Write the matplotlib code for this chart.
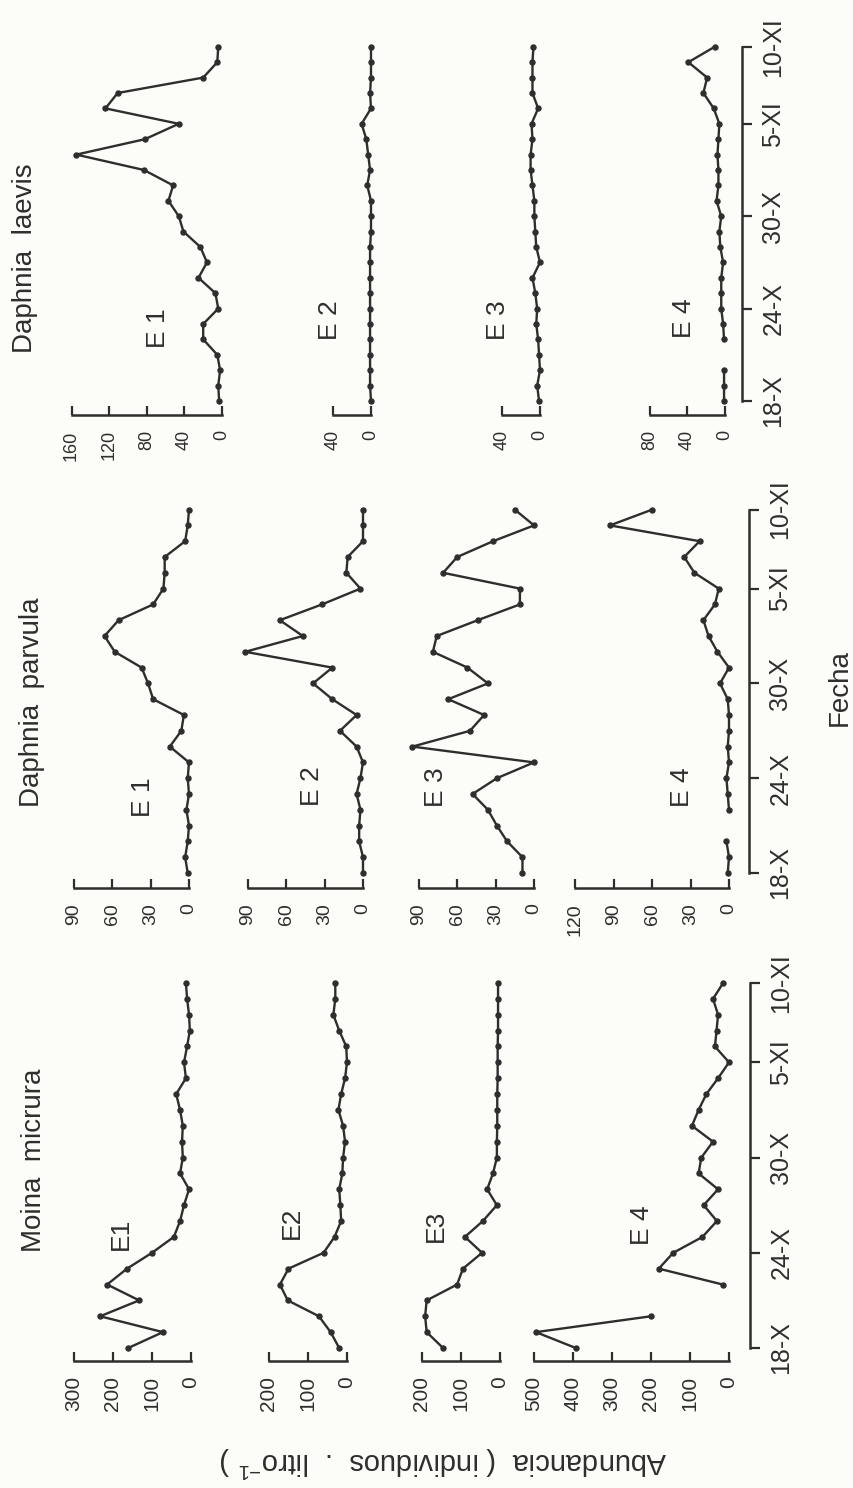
import numpy as np
import matplotlib.pyplot as plt

plt.rcParams['font.family'] = ['Liberation Sans', 'DejaVu Sans']
plt.rcParams['mathtext.fontset'] = 'custom'
plt.rcParams['mathtext.rm'] = 'Liberation Sans'
plt.rcParams['mathtext.default'] = 'regular'

nan = np.nan
W, H = 854, 1488
ink = '#2e2e2e'

# sampling days: 18-X .. 10-XI, one sample per day
days = np.arange(24)
date_ticks = [0, 6, 12, 18, 23]
date_labels = ['18-X', '24-X', '30-X', '5-XI', '10-XI']

species = ['Moina  micrura', 'Daphnia  parvula', 'Daphnia  laevis']

# Moina micrura
moina_e1 = [161, 72, 233, 133, 215, 164, 100, 44, 28, 18, 5, 28, 21, 23, 21, 28, 38, 13, 18, 10, 3, 5, 10, 13]
moina_e2 = [20, 42, 72, 152, 172, 150, 60, 32, 15, 17, 20, 12, 10, 5, 10, 22, 15, 5, 0, 2, 20, 35, 30, 30]
moina_e3 = [146, 188, 192, 188, 110, 95, 46, 90, 44, 8, 33, 18, 8, 8, 7, 7, 7, 6, 6, 6, 5, 5, 5, 5]
moina_e4 = [393, 495, 200, nan, 16, 180, 143, 68, 31, 65, 28, 78, 71, 41, 95, 78, 58, 28, 0, 36, 32, 28, 41, 15]

# Daphnia parvula
parvula_e1 = [1, 3, 1, 0, 2, 0, 1, 0, 15, 6, 4, 28, 32, 37, 58, 66, 55, 28, 20, 19, 19, 3, 1, 0]
parvula_e2 = [0, 0, 3, 3, 2, 5, 2, 0, 5, 18, 5, 24, 39, 24, 92, 47, 65, 32, 2, 13, 12, 0, 0, 0]
parvula_e3 = [9, 9, 21, 29, 36, 48, 29, 0, 95, 50, 39, 67, 36, 52, 79, 76, 44, 11, 11, 71, 60, 32, 0, 15]
parvula_e4 = [1, 0, 2, nan, 0, 1, 2, 0, 1, 0, 0, 1, 7, 0, 9, 16, 20, 11, 8, 27, 35, 23, 93, 60]

# Daphnia laevis
laevis_e1 = [3, 4, 2, 5, 20, 20, 4, 7, 25, 16, 23, 41, 46, 57, 52, 83, 155, 82, 46, 124, 111, 20, 5, 4]
laevis_e2 = [0, 1, 1, 1, 1, 1, 1, 1, 1, 1, 1, 0, 0, 0, 4, 1, 3, 5, 10, 0, 1, 0, 0, 0]
laevis_e3 = [1, 3, 0, 1, 2, 4, 3, 5, 8, 0, 4, 5, 6, 6, 8, 10, 10, 8, 9, 2, 8, 8, 8, 7]
laevis_e4 = [1, 1, 1, nan, 1, 2, 4, 4, 4, 2, 5, 6, 4, 9, 7, 7, 8, 7, 6, 12, 23, 19, 39, 11]

series = [
    [moina_e1, moina_e2, moina_e3, moina_e4],
    [parvula_e1, parvula_e2, parvula_e3, parvula_e4],
    [laevis_e1, laevis_e2, laevis_e3, laevis_e4],
]
value_ticks = [
    [[0, 100, 200, 300], [0, 100, 200], [0, 100, 200], [0, 100, 200, 300, 400, 500]],
    [[0, 30, 60, 90], [0, 30, 60, 90], [0, 30, 60, 90], [0, 30, 60, 90, 120]],
    [[0, 40, 80, 120, 160], [0, 40], [0, 40], [0, 40, 80]],
]

# page layout (pixels): the figure is printed turned a quarter turn
blocks = [
    dict(y0=1348, d=15.87, yline=1361, s=0.39, xdate=750, x0=[191, 347, 500, 729],
         title=(34, 1160), labels=[(121, 1234), (292, 1223), (436, 1226), (642, 1225)],
         names=['E1', 'E2', 'E3', 'E 4'], lsize=15),
    dict(y0=873, d=15.8, yline=888, s=1.28, xdate=749, x0=[189, 363, 534, 729],
         title=(32, 702), labels=[(143, 797), (312, 786), (436, 787), (682, 787)],
         names=['E 1', 'E 2', 'E 3', 'E 4'], lsize=14),
    dict(y0=401, d=15.4, yline=415, s=0.94, xdate=742, x0=[222, 371, 540, 725],
         title=(25, 258), labels=[(158, 328), (330, 320), (498, 320), (684, 318)],
         names=['E 1', 'E 2', 'E 3', 'E 4'], lsize=13),
]

fig = plt.figure(figsize=(W / 100, H / 100), dpi=100)
fig.patch.set_facecolor('#fcfcf8')


def px_axes(left, top, right, bottom):
    return fig.add_axes([left / W, 1 - bottom / H, (right - left) / W, (bottom - top) / H])


for b, blk in enumerate(blocks):
    for k in range(4):
        vals = np.array(series[b][k], dtype=float)
        ticks = value_ticks[b][k]
        x0 = blk['x0'][k]
        s, d = blk['s'], blk['d']
        vtop = max(ticks[-1], np.nanmax(vals)) * 1.06
        vlow = -(blk['xdate'] - x0) / s
        ylow = -(blk['yline'] - blk['y0']) / d
        yhigh = 23.8
        ax = px_axes(x0 - vtop * s, blk['y0'] - yhigh * d, blk['xdate'], blk['yline'])
        ax.patch.set_alpha(0)
        ax.set_xlim(vtop, vlow)
        ax.set_ylim(ylow, yhigh)

        ax.plot(vals, days, color=ink, lw=1.7, marker='o', ms=3.6, clip_on=False)

        for side in ['top', 'left']:
            ax.spines[side].set_visible(False)
        ax.spines['bottom'].set_bounds(0, ticks[-1])
        ax.spines['bottom'].set_linewidth(1.8)
        ax.spines['bottom'].set_color(ink)
        ax.set_xticks(ticks, [str(t) for t in ticks])
        ax.tick_params(axis='x', direction='in', length=6.5, width=1.6, pad=11,
                       labelsize=blk['lsize'], labelrotation=90, color=ink, labelcolor=ink)

        if k == 3:
            ax.yaxis.tick_right()
            ax.spines['right'].set_bounds(0, 23)
            ax.spines['right'].set_linewidth(1.8)
            ax.spines['right'].set_color(ink)
            ax.set_yticks(date_ticks, date_labels)
            ax.tick_params(axis='y', direction='out', length=7, width=1.6, pad=7,
                           labelsize=18, labelrotation=90, color=ink, labelcolor=ink)
            for lab in ax.get_yticklabels():
                lab.set_va('center')
        else:
            ax.spines['right'].set_visible(False)
            ax.set_yticks([])

        lx, ly = blk['labels'][k]
        fig.text(lx / W, 1 - ly / H, blk['names'][k], rotation=90, ha='center', va='center',
                 fontsize=19, color=ink)

    tx, ty = blk['title']
    fig.text(tx / W, 1 - ty / H, species[b], rotation=90, ha='center', va='center',
             fontsize=20, color=ink)

fig.text(840 / W, 1 - 688 / H, 'Fecha', rotation=90, ha='center', va='center',
         fontsize=20, color=ink)
fig.text(443 / W, 1 - 1462 / H, 'Abundancia  ( individuos  .  litro$^{-1}$ )', rotation=180,
         ha='center', va='center', fontsize=21, color=ink)

fig.savefig('out.png', dpi=100, facecolor=fig.get_facecolor())
